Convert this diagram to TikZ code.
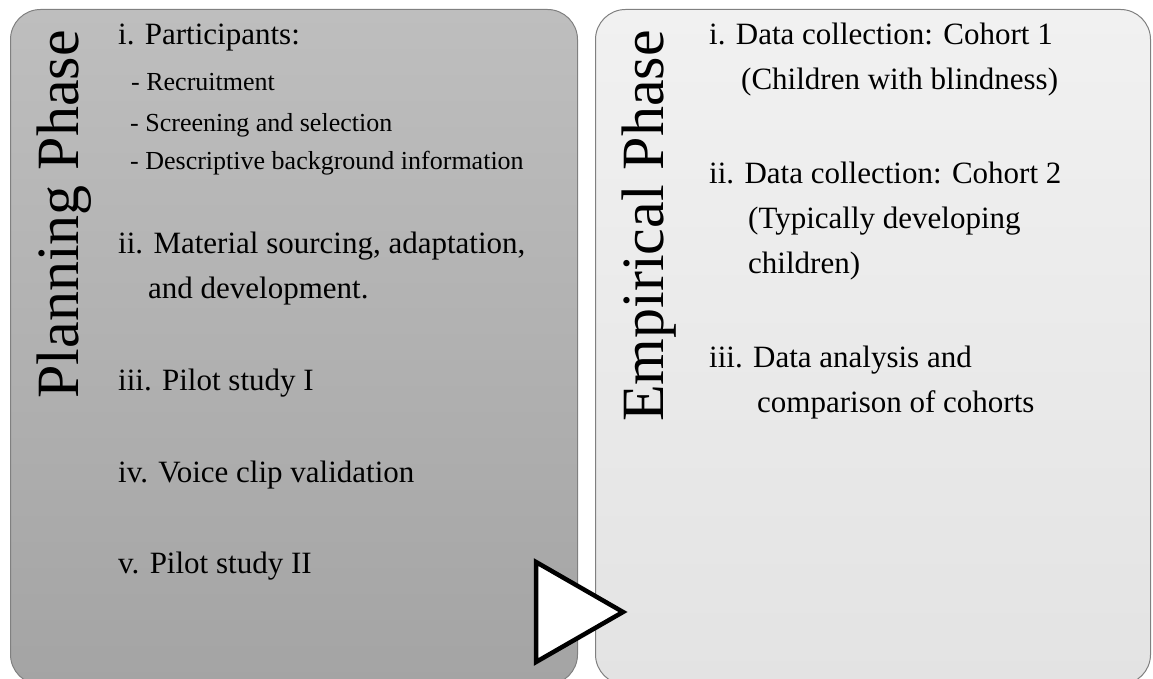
\documentclass[tikz,border=0pt]{standalone}
\usepackage{fontspec}
\setmainfont{Liberation Serif}
\definecolor{ltop}{HTML}{BEBEBE}
\definecolor{lbot}{HTML}{A4A4A4}
\definecolor{rtop}{HTML}{F1F1F1}
\definecolor{rbot}{HTML}{E3E3E3}
\definecolor{edge}{HTML}{808080}
\begin{document}
\begin{tikzpicture}[x=1pt,y=-1pt,
  item/.style={anchor=base west, inner sep=0pt, font=\fontsize{31}{37}\selectfont},
  subitem/.style={anchor=base west, inner sep=0pt, font=\fontsize{26}{31}\selectfont},
  phase/.style={rotate=90, anchor=base east, inner sep=0pt, font=\fontsize{60}{72}\selectfont},
  panel/.style={draw=edge, line width=1pt, rounded corners=30pt, anchor=north west, inner sep=0pt}
]
\useasboundingbox (0,0) rectangle (1153,679);
\begin{scope}
\clip (0,0) rectangle (1153,679);
\node[panel, top color=ltop, bottom color=lbot, minimum width=567pt, minimum height=675pt] (left) at (10,9) {};
\node[panel, top color=rtop, bottom color=rbot, minimum width=555pt, minimum height=675pt] (right) at (595,9) {};
\end{scope}

\node[phase] (ptitle) at (78,30) {Planning Phase};
\node[phase] (etitle) at (663,30) {Empirical Phase};

\node[item] (l1) at (118,45) {i. Participants:};
\node[subitem] (l1a) at (131,91) {- Recruitment};
\node[subitem] (l1b) at (130,132) {- Screening and selection};
\node[subitem] (l1c) at (130,170) {- Descriptive background information};
\node[item] (l2) at (118,253) {ii. Material sourcing, adaptation,};
\node[item] (l2b) at (148,298) {and development.};
\node[item] (l3) at (118,390) {iii. Pilot study I};
\node[item] (l4) at (118,482) {iv. Voice clip validation};
\node[item] (l5) at (118,573) {v. Pilot study II};

\node[item] (r1) at (709,45) {i. Data collection: Cohort 1};
\node[item] (r1b) at (741,90) {(Children with blindness)};
\node[item] (r2) at (709,183) {ii. Data collection: Cohort 2};
\node[item] (r2b) at (748,228) {(Typically developing};
\node[item] (r2c) at (748,273) {children)};
\node[item] (r3) at (709,367) {iii. Data analysis and};
\node[item] (r3b) at (757,412) {comparison of cohorts};

\draw[line width=4.5pt, fill=white, line join=miter] (536,562) -- (623,612) -- (536,662) -- cycle;
\end{tikzpicture}
\end{document}
